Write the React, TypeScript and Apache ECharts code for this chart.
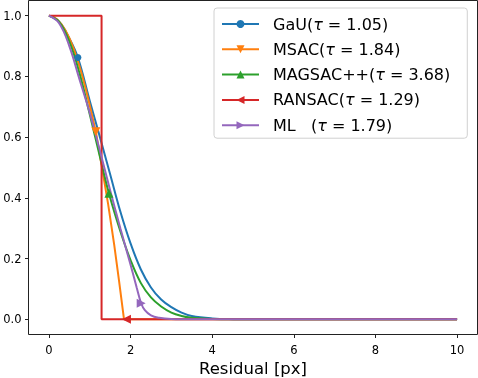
import React, { useEffect, useRef } from "react";
import * as echarts from "echarts";

// ---- data ----
const names = ["GaU(τ = 1.05)", "MSAC(τ = 1.84)", "MAGSAC++(τ = 3.68)", "RANSAC(τ = 1.29)", "ML   (τ = 1.79)"];
const colors = ["#1f77b4", "#ff7f0e", "#2ca02c", "#d62728", "#9467bd"];

const gauX = [0, 0.25, 0.5, 0.71, 1.0, 1.25, 1.5, 1.75, 2.0, 2.25, 2.5, 2.75, 3.0, 3.25, 3.5, 4.0, 4.5, 5.0, 10];
const gauY = [1, 0.98, 0.925, 0.862, 0.72, 0.6, 0.478, 0.355, 0.25, 0.165, 0.105, 0.065, 0.04, 0.022, 0.011, 0.003, 0.0005, 0, 0];
const gauMarkerX = 0.71;

const msacX = [0, 0.1, 0.2, 0.3, 0.4, 0.5, 0.6, 0.7, 0.8, 0.9, 1.0, 1.15, 1.3, 1.45, 1.6, 1.72, 1.84, 10];
const msacY = [1, 0.997, 0.988, 0.973, 0.953, 0.927, 0.894, 0.855, 0.81, 0.76, 0.705, 0.618, 0.5, 0.38, 0.245, 0.125, 0, 0];
const msacMarkerX = 1.15;

const magX = [0, 0.25, 0.5, 0.75, 1.0, 1.25, 1.47, 1.75, 2.0, 2.25, 2.5, 2.75, 3.0, 3.25, 3.5, 4.0, 5.0, 10];
const magY = [1, 0.98, 0.915, 0.81, 0.675, 0.535, 0.415, 0.29, 0.195, 0.12, 0.072, 0.042, 0.022, 0.011, 0.005, 0.001, 0, 0];
const magMarkerX = 1.47;

const ransacX = [0, 1.29, 1.29, 1.9, 10];
const ransacY = [1, 1, 0, 0, 0];
const ransacMarkerX = 1.9;

const mlX = [0, 0.25, 0.5, 0.75, 1.0, 1.25, 1.5, 1.75, 2.0, 2.15, 2.26, 2.35, 2.5, 2.7, 3.0, 3.5, 10];
const mlY = [1, 0.975, 0.9, 0.79, 0.68, 0.555, 0.425, 0.3, 0.18, 0.105, 0.053, 0.03, 0.013, 0.005, 0.001, 0, 0];
const mlMarkerX = 2.26;

const xTicks = [0, 2, 4, 6, 8, 10];
const yTicks = [0, 0.2, 0.4, 0.6, 0.8, 1.0];

const FONT = "DejaVu Sans";

function buildData(xs: number[], ys: number[], mx: number) {
  return xs.map((x, i) => {
    if (x === mx && !(i > 0 && xs[i - 1] === x)) return { value: [x, ys[i]] };
    return { value: [x, ys[i]], symbol: "none" };
  });
}

export default function App() {
  const ref = useRef<HTMLDivElement>(null);
  useEffect(() => {
    if (!ref.current) return;
    const chart = echarts.init(ref.current, undefined, { renderer: "svg" });
    const seriesDefs = [
      { xs: gauX, ys: gauY, mx: gauMarkerX, symbol: "circle", size: 7, rot: 0, smooth: 0.4 },
      { xs: msacX, ys: msacY, mx: msacMarkerX, symbol: "triangle", size: 9, rot: 180, smooth: false },
      { xs: magX, ys: magY, mx: magMarkerX, symbol: "triangle", size: 9, rot: 0, smooth: 0.4 },
      { xs: ransacX, ys: ransacY, mx: ransacMarkerX, symbol: "triangle", size: 9, rot: 90, smooth: false },
      { xs: mlX, ys: mlY, mx: mlMarkerX, symbol: "triangle", size: 9, rot: -90, smooth: 0.4 },
    ];
    chart.setOption({
      animation: false,
      color: colors,
      grid: {
        left: 28.5, right: 0.5, top: 0.5, bottom: 43.5,
        outerBoundsMode: "none",
        containLabel: false,
        show: true, borderColor: "#222", borderWidth: 1, backgroundColor: "transparent",
      },
      xAxis: {
        type: "value",
        min: -0.5,
        max: 10.5,
        splitLine: { show: false },
        axisLine: { show: false, onZero: false },
        axisTick: { show: true, length: 3.5, lineStyle: { color: "#222" }, customValues: xTicks },
        axisLabel: { customValues: xTicks, margin: 9, fontFamily: FONT, fontSize: 11.5, color: "#000" },
        name: "Residual [px]",
        nameLocation: "middle",
        nameGap: 23,
        nameTextStyle: { fontFamily: FONT, fontSize: 16.5, color: "#000" },
      },
      yAxis: {
        type: "value",
        min: -0.05,
        max: 1.05,
        splitLine: { show: false },
        axisLine: { show: false, onZero: false },
        axisTick: { show: true, length: 3.5, lineStyle: { color: "#222" }, customValues: yTicks },
        axisLabel: { customValues: yTicks, margin: 7, fontFamily: FONT, fontSize: 11.5, color: "#000", formatter: (v: number) => v.toFixed(1) },
      },
      legend: {
        orient: "vertical",
        left: 214,
        top: 8,
        padding: [8, 17, 5, 7],
        itemWidth: 37,
        itemHeight: 10,
        itemGap: 9.3,
        backgroundColor: "rgba(255,255,255,0.85)",
        borderColor: "#d0d0d0",
        borderWidth: 1,
        borderRadius: 3,
        data: names,
        formatter: (name: string) => name.replace("τ", "{t|τ}"),
        textStyle: {
          fontFamily: FONT,
          fontSize: 16,
          color: "#000",
          lineHeight: 16,
          padding: [0, 0, 0, 9],
          rich: { t: { fontFamily: FONT, fontSize: 16, fontStyle: "italic", color: "#000" } },
        },
      },
      series: seriesDefs.map((d, i) => ({
        name: names[i],
        type: "line",
        data: buildData(d.xs, d.ys, d.mx),
        smooth: d.smooth,
        symbol: d.symbol,
        symbolSize: d.size,
        symbolRotate: d.rot,
        showAllSymbol: true,
        lineStyle: { width: 2, color: colors[i] },
        itemStyle: { color: colors[i], borderWidth: 0 },
        emphasis: { disabled: true },
      })),
    });
    return () => chart.dispose();
  }, []);
  return <div ref={ref} style={{ position: "fixed", left: 0, top: 0, width: 478, height: 378 }} />;
}
